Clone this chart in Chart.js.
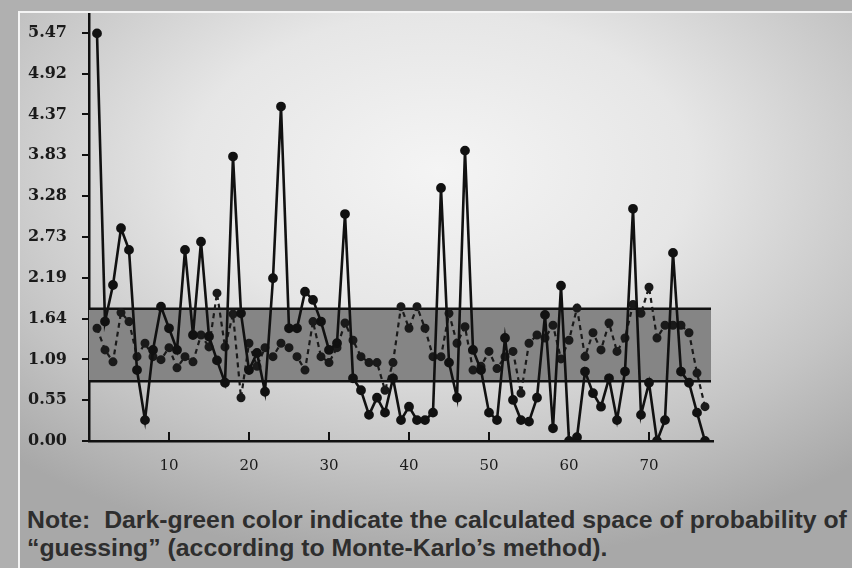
<!DOCTYPE html>
<html>
<head>
<meta charset="utf-8">
<script src="https://cdn.jsdelivr.net/npm/chart.js@4"></script>
<style>
  html, body { margin: 0; padding: 0; }
  body {
    width: 852px; height: 568px; overflow: hidden; position: relative;
    background: #b0b0b0;
  }
  #frame {
    position: absolute; left: 18px; top: 11px; width: 840px; height: 560px;
    border-left: 2px solid #f4f4f4; border-top: 2px solid #f4f4f4;
    background: radial-gradient(ellipse 75% 70% at 50% 28%, #f4f4f4 0%, #e6e6e6 40%, #c4c4c4 75%, #a8a8a8 100%);
  }
  #wrap { position: absolute; left: 0; top: 0; width: 852px; height: 500px; }
  #note {
    position: absolute; left: 27px; top: 506px; width: 830px;
    font-family: "Liberation Sans", Arial, sans-serif; font-weight: bold;
    font-size: 24.8px; line-height: 28px; color: #2e2e2e; white-space: nowrap;
  }
</style>
</head>
<body>
<div id="frame"></div>
<div id="wrap"><canvas id="chart"></canvas></div>
<div id="note">Note:&nbsp; Dark-green color indicate the calculated space of probability of<br>“guessing” (according to Monte-Karlo’s method).</div>
<script>
// item numbers 1..77
const items = Array.from({ length: 77 }, (_, i) => i + 1);

// solid line
const solidValues = [
  5.46, 1.60, 2.09, 2.85, 2.56, 0.95, 0.28, 1.22, 1.80, 1.51,
  1.22, 2.56, 1.42, 2.67, 1.40, 1.08, 0.78, 3.81, 1.71, 0.95,
  1.18, 0.66, 2.18, 4.48, 1.51, 1.51, 2.00, 1.89, 1.60, 1.22,
  1.31, 3.04, 0.84, 0.68, 0.35, 0.58, 0.38, 0.84, 0.28, 0.46,
  0.28, 0.28, 0.38, 3.39, 1.05, 0.58, 3.89, 1.22, 0.95, 0.38,
  0.28, 1.38, 0.55, 0.28, 0.26, 0.58, 1.69, 0.17, 2.08, 0.00,
  0.05, 0.93, 0.64, 0.46, 0.84, 0.28, 0.93, 3.11, 0.35, 0.78,
  0.00, 0.28, 2.52, 0.93, 0.78, 0.38, 0.00
];

// dashed line
const dashedValues = [
  1.51, 1.22, 1.06, 1.72, 1.60, 1.13, 1.31, 1.13, 1.09, 1.25,
  0.98, 1.13, 1.06, 1.42, 1.26, 1.98, 1.26, 1.70, 0.58, 1.31,
  1.00, 1.25, 1.13, 1.31, 1.25, 1.13, 0.95, 1.60, 1.13, 1.05,
  1.25, 1.58, 1.35, 1.13, 1.05, 1.05, 0.68, 1.05, 1.80, 1.51,
  1.80, 1.51, 1.13, 1.13, 1.71, 1.31, 1.53, 0.95, 1.00, 1.20,
  0.97, 1.13, 1.20, 0.64, 1.31, 1.42, 1.38, 1.55, 1.10, 1.35,
  1.78, 1.13, 1.45, 1.22, 1.58, 1.20, 1.38, 1.83, 1.71, 2.06,
  1.38, 1.55, 1.55, 1.55, 1.45, 0.91, 0.46
];

// "guessing" band (Monte-Karlo)
const bandLow = 0.80;
const bandHigh = 1.77;

const xTicks = [10, 20, 30, 40, 50, 60, 70];
const yTickValues = [0, 0.5468, 1.0936, 1.6404, 2.1872, 2.734, 3.2808, 3.8276, 4.3744, 4.9212, 5.468];
const yTickLabels = ["0.00", "0.55", "1.09", "1.64", "2.19", "2.73", "3.28", "3.83", "4.37", "4.92", "5.47"];

const toPoints = (vals) => vals.map((v, i) => ({ x: items[i], y: v }));

// grey band behind the lines, plus inward x tick marks
const bandPlugin = {
  id: "band",
  beforeDatasetsDraw(chart) {
    const { ctx, chartArea, scales } = chart;
    const yTop = scales.y.getPixelForValue(bandHigh);
    const yBot = scales.y.getPixelForValue(bandLow);
    ctx.save();
    ctx.fillStyle = "#858585";
    ctx.fillRect(chartArea.left, yTop, chartArea.right - chartArea.left - 2, yBot - yTop);
    ctx.strokeStyle = "#111";
    ctx.lineWidth = 2.5;
    ctx.beginPath();
    ctx.moveTo(chartArea.left, yTop);
    ctx.lineTo(chartArea.right - 2, yTop);
    ctx.moveTo(chartArea.left, yBot);
    ctx.lineTo(chartArea.right - 2, yBot);
    ctx.stroke();
    ctx.restore();
  },
  afterDraw(chart) {
    const { ctx, chartArea, scales } = chart;
    ctx.save();
    ctx.strokeStyle = "#111";
    ctx.lineWidth = 2;
    ctx.beginPath();
    xTicks.forEach((t) => {
      const px = scales.x.getPixelForValue(t);
      ctx.moveTo(px, chartArea.bottom);
      ctx.lineTo(px, chartArea.bottom - 9);
    });
    ctx.stroke();
    ctx.restore();
  },
};

new Chart(document.getElementById("chart"), {
  type: "line",
  data: {
    datasets: [
      {
        label: "solid",
        data: toPoints(solidValues),
        borderColor: "#111",
        backgroundColor: "#111",
        borderWidth: 2.6,
        pointRadius: 3.6,
        pointHoverRadius: 3.6,
        tension: 0,
      },
      {
        label: "dashed",
        data: toPoints(dashedValues),
        borderColor: "#1a1a1a",
        backgroundColor: "#1a1a1a",
        borderWidth: 2.2,
        borderDash: [5, 4],
        pointRadius: 3.4,
        pointHoverRadius: 3.4,
        tension: 0,
      },
    ],
  },
  plugins: [bandPlugin],
  options: {
    responsive: true,
    maintainAspectRatio: false,
    animation: false,
    layout: { padding: { top: 14, right: 139, left: 0, bottom: 0 } },
    plugins: { legend: { display: false }, tooltip: { enabled: false } },
    scales: {
      x: {
        type: "linear",
        min: 0,
        max: 78,
        afterBuildTicks: (scale) => {
          scale.ticks = xTicks.map((v) => ({ value: v }));
        },
        afterFit: (scale) => {
          scale.height = 59;
          scale.paddingLeft = 0;
          scale.paddingRight = 0;
        },
        grid: { drawOnChartArea: false, drawTicks: false },
        border: { color: "#111", width: 2.5 },
        ticks: {
          padding: 16,
          color: "#1a1a1a",
          font: { family: "DejaVu Serif", size: 15 },
          maxRotation: 0,
        },
      },
      y: {
        min: 0,
        max: 5.72,
        afterBuildTicks: (scale) => {
          scale.ticks = yTickValues.map((v) => ({ value: v }));
        },
        afterFit: (scale) => {
          scale.width = 89;
          scale.paddingTop = 0;
          scale.paddingBottom = 0;
        },
        grid: { drawOnChartArea: false, tickLength: 7, color: "#111", lineWidth: 2 },
        border: { color: "#111", width: 2.5 },
        ticks: {
          padding: 15,
          color: "#1a1a1a",
          font: { family: "DejaVu Serif", size: 16, weight: "bold" },
          callback: (value, index) => yTickLabels[index],
        },
      },
    },
  },
});
</script>
</body>
</html>
